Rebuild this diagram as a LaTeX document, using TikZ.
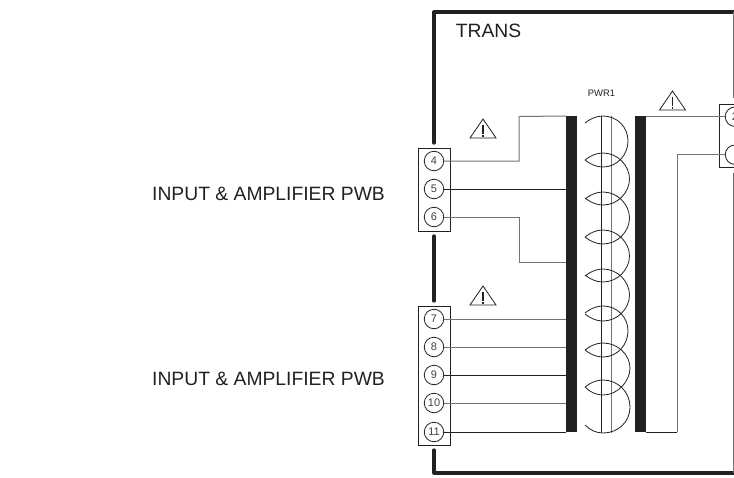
\documentclass[tikz,border=0pt]{standalone}
\usepackage{fontspec}
\setmainfont{Liberation Sans}
\definecolor{ink}{gray}{0.13}
\definecolor{wiregray}{gray}{0.45}
\tikzset{
  frameline/.style={draw=ink,line width=3.2pt,line cap=round,line join=round},
  termbox/.style={draw=ink,line width=0.8pt,fill=white},
  term/.style={circle,draw=ink,line width=0.8pt,fill=white,minimum size=19.5pt,inner sep=0pt,font=\fontsize{11}{12}\selectfont,text=ink!85},
  core/.style={fill=ink,draw=none},
  wire/.style={draw=ink,line width=0.9pt},
  wireg/.style={draw=wiregray,line width=1pt},
  coil/.style={draw=ink,line width=0.8pt},
  warn/.style={draw=ink,line width=0.8pt,line join=miter},
  lab/.style={text=ink,inner sep=0pt,font=\fontsize{19.3}{21}\selectfont},
}
\newcommand{\warntri}[1]{%
  \draw[warn] (#1)++(-13,19) -- ++(13,-19) -- ++(13,19) -- cycle;
  \draw[draw=ink,line width=1.2pt] (#1)++(0,5.5) -- ++(0,9.5);
  \fill[ink] (#1)++(-0.7,16.2) rectangle ++(1.4,1.6);
}
\newcommand{\coilturn}[1]{%
  \draw[coil] (585,#1) .. controls (590,#1-4) and (596,#1-7) .. (603,#1-7)
    .. controls (618,#1-7) and (629.5,#1+6) .. (629.5,#1+19)
    .. controls (629.5,#1+32) and (618,#1+45) .. (603,#1+45)
    .. controls (596,#1+45) and (590,#1+42) .. (585,#1+38);
}
\begin{document}
\begin{tikzpicture}[x=1pt,y=-1pt]
\path[use as bounding box,clip] (0,0) rectangle (734,477);
% frame
\draw[frameline] (434,143) -- (434,12) -- (736,12);
\draw[frameline] (434,236) -- (434,301);
\draw[frameline] (434,450) -- (434,473) -- (736,473);
\draw[draw=wiregray,line width=1.1pt] (733.4,12) -- (733.4,98);
\draw[draw=wiregray,line width=1.1pt] (733.4,173) -- (733.4,473);
% core
\node[core,minimum width=11pt,minimum height=316pt,inner sep=0pt,anchor=north west] (coreL) at (566,116) {};
\node[core,minimum width=11pt,minimum height=316pt,inner sep=0pt,anchor=north west] (coreR) at (635,116) {};
% coil axes
\coordinate (axAt) at (601.5,116);\coordinate (axAb) at (601.5,433);
\coordinate (axBt) at (611,116);\coordinate (axBb) at (611,433);
\draw[wire] (axAt) -- (axAb);
\draw[wireg] (axBt) -- (axBb);
% coil
\draw[coil] (585,123) .. controls (590,119) and (596,116) .. (603,116)
  .. controls (617,116) and (628,127) .. (628,141)
  .. controls (628,155) and (617,167) .. (603,167)
  .. controls (596,167) and (590,164) .. (585,160);
\coilturn{160}\coilturn{199}\coilturn{237}\coilturn{276}
\draw[coil] (585,313) .. controls (590,309) and (596,306) .. (603,306)
  .. controls (617,306) and (628,317) .. (628,331)
  .. controls (628,345) and (617,357) .. (603,357)
  .. controls (596,357) and (590,354) .. (585,350);
\draw[coil] (585,350) .. controls (590,346) and (596,343) .. (603,343)
  .. controls (618,343) and (630,355) .. (630,368)
  .. controls (630,381) and (618,395) .. (603,395)
  .. controls (596,395) and (590,392) .. (585,387);
\draw[coil] (585,387) .. controls (590,383) and (596,380) .. (603,380)
  .. controls (618,380) and (630,392) .. (630,407)
  .. controls (630,422) and (618,433) .. (603,433)
  .. controls (596,433) and (590,430) .. (585,425);
% terminal boxes
\node[termbox,minimum width=32pt,minimum height=83pt,inner sep=0pt,anchor=north west] (boxA) at (418,147.5) {};
\node[termbox,minimum width=32pt,minimum height=139pt,inner sep=0pt,anchor=north west] (boxB) at (418,306) {};
\node[termbox,minimum width=32pt,minimum height=63pt,inner sep=0pt,anchor=north west] (boxC) at (719,104) {};
\node[term] (t4) at (434,161) {4};
\node[term] (t5) at (434,189) {5};
\node[term] (t6) at (434,217) {6};
\node[term] (t7) at (434,319) {7};
\node[term] (t8) at (434,347) {8};
\node[term] (t9) at (434,375) {9};
\node[term] (t10) at (434,403) {10};
\node[term] (t11) at (434,432) {11};
\node[term] (t2) at (735,116.7) {2};
\node[term] (t3) at (735,154.7) {};
% wires
\coordinate (c4) at (566,116);\coordinate (c6) at (566,262);
\draw[wireg] (t4.east) -- (519,161) -- (519,116.5) -- (c4);
\draw[wire] (t5.east) -- (566,189);
\draw[wireg] (t6.east) -- (519,217) -- (519,262) -- (c6);
\draw[wireg] (t7.east) -- (566,319);
\draw[wireg] (t8.east) -- (566,347);
\draw[wire] (t9.east) -- (566,375);
\draw[wireg] (t10.east) -- (566,403);
\draw[wire] (t11.east) -- (566,432);
\draw[wireg] (646,116.7) -- (t2.west);
\draw[wireg] (t3.west) -- (677,154.7) -- (677,432.4);
\draw[wire] (677,432) -- (646,432);
% warnings
\coordinate (w1) at (483,119);\coordinate (w2) at (672.5,91);\coordinate (w3) at (483,286);
\warntri{w1}\warntri{w2}\warntri{w3}
% labels
\node[lab,anchor=center] (lblA) at (268.5,193.5) {INPUT \& AMPLIFIER PWB};
\node[lab,anchor=center] (lblB) at (268.5,379) {INPUT \& AMPLIFIER PWB};
\node[lab,anchor=center] (trans) at (488.5,31) {TRANS};
\node[text=ink,inner sep=0pt,font=\fontsize{9.4}{10}\selectfont] (pwr) at (601.5,93) {PWR1};
\end{tikzpicture}
\end{document}
